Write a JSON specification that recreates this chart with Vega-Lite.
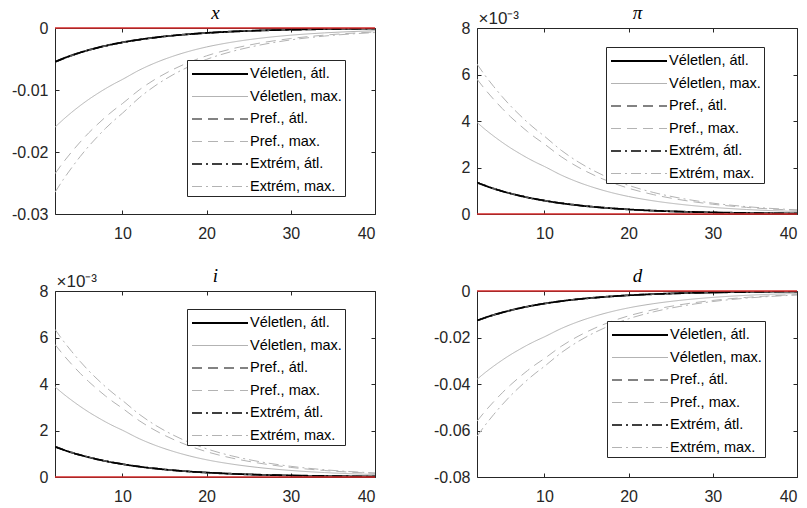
{
"$schema": "https://vega.github.io/schema/vega-lite/v6.json",
"padding": {"left": 11, "top": 3, "right": 5, "bottom": 0},
"background": "white",
"config": {
  "view": {"stroke": "#262626", "strokeWidth": 1},
  "font": "Liberation Sans",
  "axis": {"domain": false, "grid": false, "tickSize": -4, "tickColor": "#262626", "tickWidth": 1, "labelFont": "Liberation Sans", "labelFontSize": 16, "labelColor": "#262626", "zindex": 1},
  "axisX": {"labelPadding": 15.5},
  "axisY": {"labelPadding": 11},
  "legend": {"orient": "none", "strokeColor": "#262626", "fillColor": "white", "padding": 3, "symbolType": "M-0.9,0H4.7", "symbolSize": 400, "symbolStrokeWidth": 1.5, "labelFont": "Liberation Sans", "labelFontSize": 14.5, "labelColor": "#000000", "labelOffset": 38, "rowPadding": 5, "zindex": 1, "titleOrient": "right", "titlePadding": 0, "titleFontSize": 14.5, "titleFont": "Liberation Sans", "titleFontWeight": "normal"}
},
"datasets": {
"px": [
{"s":"Véletlen, átl.","t":2,"v":-0.00545},{"s":"Véletlen, átl.","t":3,"v":-0.0049},{"s":"Véletlen, átl.","t":4,"v":-0.0044},{"s":"Véletlen, átl.","t":5,"v":-0.00395},{"s":"Véletlen, átl.","t":6,"v":-0.003553},{"s":"Véletlen, átl.","t":7,"v":-0.003194},{"s":"Véletlen, átl.","t":8,"v":-0.002867},{"s":"Véletlen, átl.","t":9,"v":-0.002578},{"s":"Véletlen, átl.","t":10,"v":-0.002316},{"s":"Véletlen, átl.","t":12,"v":-0.001869},{"s":"Véletlen, átl.","t":14,"v":-0.00151},{"s":"Véletlen, átl.","t":16,"v":-0.00122},{"s":"Véletlen, átl.","t":18,"v":-0.000986},{"s":"Véletlen, átl.","t":20,"v":-0.000796},{"s":"Véletlen, átl.","t":23,"v":-0.000578},{"s":"Véletlen, átl.","t":26,"v":-0.000418},{"s":"Véletlen, átl.","t":30,"v":-0.000273},{"s":"Véletlen, átl.","t":34,"v":-0.000178},{"s":"Véletlen, átl.","t":40,"v":-0.0000937},
{"s":"Véletlen, max.","t":2,"v":-0.016},{"s":"Véletlen, max.","t":3,"v":-0.01474},{"s":"Véletlen, max.","t":4,"v":-0.01358},{"s":"Véletlen, max.","t":5,"v":-0.01251},{"s":"Véletlen, max.","t":6,"v":-0.01152},{"s":"Véletlen, max.","t":7,"v":-0.01062},{"s":"Véletlen, max.","t":8,"v":-0.00978},{"s":"Véletlen, max.","t":9,"v":-0.00901},{"s":"Véletlen, max.","t":10,"v":-0.0083},{"s":"Véletlen, max.","t":12,"v":-0.0068},{"s":"Véletlen, max.","t":14,"v":-0.00557},{"s":"Véletlen, max.","t":16,"v":-0.00456},{"s":"Véletlen, max.","t":18,"v":-0.00373},{"s":"Véletlen, max.","t":20,"v":-0.00306},{"s":"Véletlen, max.","t":23,"v":-0.00229},{"s":"Véletlen, max.","t":26,"v":-0.00171},{"s":"Véletlen, max.","t":30,"v":-0.00116},{"s":"Véletlen, max.","t":34,"v":-0.00079},{"s":"Véletlen, max.","t":40,"v":-0.00044},
{"s":"Pref., átl.","t":2,"v":-0.0055},{"s":"Pref., átl.","t":3,"v":-0.00494},{"s":"Pref., átl.","t":4,"v":-0.00444},{"s":"Pref., átl.","t":5,"v":-0.00399},{"s":"Pref., átl.","t":6,"v":-0.00359},{"s":"Pref., átl.","t":7,"v":-0.00322},{"s":"Pref., átl.","t":8,"v":-0.00289},{"s":"Pref., átl.","t":9,"v":-0.0026},{"s":"Pref., átl.","t":10,"v":-0.00234},{"s":"Pref., átl.","t":12,"v":-0.00189},{"s":"Pref., átl.","t":14,"v":-0.00152},{"s":"Pref., átl.","t":16,"v":-0.00123},{"s":"Pref., átl.","t":18,"v":-0.001},{"s":"Pref., átl.","t":20,"v":-0.0008},{"s":"Pref., átl.","t":23,"v":-0.00058},{"s":"Pref., átl.","t":26,"v":-0.00042},{"s":"Pref., átl.","t":30,"v":-0.000275},{"s":"Pref., átl.","t":34,"v":-0.00018},{"s":"Pref., átl.","t":40,"v":-0.000095},
{"s":"Pref., max.","t":2,"v":-0.0235},{"s":"Pref., max.","t":3,"v":-0.02164},{"s":"Pref., max.","t":4,"v":-0.01995},{"s":"Pref., max.","t":5,"v":-0.01838},{"s":"Pref., max.","t":6,"v":-0.01692},{"s":"Pref., max.","t":7,"v":-0.0156},{"s":"Pref., max.","t":8,"v":-0.01436},{"s":"Pref., max.","t":9,"v":-0.01323},{"s":"Pref., max.","t":10,"v":-0.0122},{"s":"Pref., max.","t":12,"v":-0.00999},{"s":"Pref., max.","t":14,"v":-0.00818},{"s":"Pref., max.","t":16,"v":-0.0067},{"s":"Pref., max.","t":18,"v":-0.00548},{"s":"Pref., max.","t":20,"v":-0.00449},{"s":"Pref., max.","t":23,"v":-0.00336},{"s":"Pref., max.","t":26,"v":-0.00251},{"s":"Pref., max.","t":30,"v":-0.0017},{"s":"Pref., max.","t":34,"v":-0.00115},{"s":"Pref., max.","t":40,"v":-0.00064},
{"s":"Extrém, átl.","t":2,"v":-0.00548},{"s":"Extrém, átl.","t":3,"v":-0.00493},{"s":"Extrém, átl.","t":4,"v":-0.00442},{"s":"Extrém, átl.","t":5,"v":-0.00397},{"s":"Extrém, átl.","t":6,"v":-0.00357},{"s":"Extrém, átl.","t":7,"v":-0.00321},{"s":"Extrém, átl.","t":8,"v":-0.00288},{"s":"Extrém, átl.","t":9,"v":-0.00259},{"s":"Extrém, átl.","t":10,"v":-0.00233},{"s":"Extrém, átl.","t":12,"v":-0.00188},{"s":"Extrém, átl.","t":14,"v":-0.00152},{"s":"Extrém, átl.","t":16,"v":-0.00123},{"s":"Extrém, átl.","t":18,"v":-0.00099},{"s":"Extrém, átl.","t":20,"v":-0.0008},{"s":"Extrém, átl.","t":23,"v":-0.00058},{"s":"Extrém, átl.","t":26,"v":-0.00042},{"s":"Extrém, átl.","t":30,"v":-0.000274},{"s":"Extrém, átl.","t":34,"v":-0.000179},{"s":"Extrém, átl.","t":40,"v":-0.000094},
{"s":"Extrém, max.","t":2,"v":-0.0265},{"s":"Extrém, max.","t":3,"v":-0.02441},{"s":"Extrém, max.","t":4,"v":-0.0225},{"s":"Extrém, max.","t":5,"v":-0.02072},{"s":"Extrém, max.","t":6,"v":-0.01908},{"s":"Extrém, max.","t":7,"v":-0.0176},{"s":"Extrém, max.","t":8,"v":-0.01619},{"s":"Extrém, max.","t":9,"v":-0.01492},{"s":"Extrém, max.","t":10,"v":-0.01375},{"s":"Extrém, max.","t":12,"v":-0.01126},{"s":"Extrém, max.","t":14,"v":-0.00922},{"s":"Extrém, max.","t":16,"v":-0.00755},{"s":"Extrém, max.","t":18,"v":-0.00617},{"s":"Extrém, max.","t":20,"v":-0.00506},{"s":"Extrém, max.","t":23,"v":-0.00379},{"s":"Extrém, max.","t":26,"v":-0.00284},{"s":"Extrém, max.","t":30,"v":-0.00192},{"s":"Extrém, max.","t":34,"v":-0.0013},{"s":"Extrém, max.","t":40,"v":-0.00073}
],
"ppi": [
{"s":"Véletlen, átl.","t":2,"v":0.00135},{"s":"Véletlen, átl.","t":3,"v":0.001214},{"s":"Véletlen, átl.","t":4,"v":0.001089},{"s":"Véletlen, átl.","t":5,"v":0.000979},{"s":"Véletlen, átl.","t":6,"v":0.00088},{"s":"Véletlen, átl.","t":7,"v":0.000791},{"s":"Véletlen, átl.","t":8,"v":0.00071},{"s":"Véletlen, átl.","t":9,"v":0.000639},{"s":"Véletlen, átl.","t":10,"v":0.000574},{"s":"Véletlen, átl.","t":12,"v":0.000463},{"s":"Véletlen, átl.","t":14,"v":0.000374},{"s":"Véletlen, átl.","t":16,"v":0.000302},{"s":"Véletlen, átl.","t":18,"v":0.000244},{"s":"Véletlen, átl.","t":20,"v":0.000197},{"s":"Véletlen, átl.","t":23,"v":0.000143},{"s":"Véletlen, átl.","t":26,"v":0.000104},{"s":"Véletlen, átl.","t":30,"v":0.0000675},{"s":"Véletlen, átl.","t":34,"v":0.000044},{"s":"Véletlen, átl.","t":40,"v":0.0000232},
{"s":"Véletlen, max.","t":2,"v":0.00394},{"s":"Véletlen, max.","t":3,"v":0.003629},{"s":"Véletlen, max.","t":4,"v":0.003345},{"s":"Véletlen, max.","t":5,"v":0.003081},{"s":"Véletlen, max.","t":6,"v":0.002837},{"s":"Véletlen, max.","t":7,"v":0.002616},{"s":"Véletlen, max.","t":8,"v":0.002407},{"s":"Véletlen, max.","t":9,"v":0.002218},{"s":"Véletlen, max.","t":10,"v":0.002045},{"s":"Véletlen, max.","t":12,"v":0.001675},{"s":"Véletlen, max.","t":14,"v":0.001371},{"s":"Véletlen, max.","t":16,"v":0.001123},{"s":"Véletlen, max.","t":18,"v":0.000918},{"s":"Véletlen, max.","t":20,"v":0.000753},{"s":"Véletlen, max.","t":23,"v":0.000563},{"s":"Véletlen, max.","t":26,"v":0.000422},{"s":"Véletlen, max.","t":30,"v":0.000285},{"s":"Véletlen, max.","t":34,"v":0.000193},{"s":"Véletlen, max.","t":40,"v":0.000108},
{"s":"Pref., átl.","t":2,"v":0.00136},{"s":"Pref., átl.","t":3,"v":0.001223},{"s":"Pref., átl.","t":4,"v":0.001098},{"s":"Pref., átl.","t":5,"v":0.000986},{"s":"Pref., átl.","t":6,"v":0.000887},{"s":"Pref., átl.","t":7,"v":0.000797},{"s":"Pref., átl.","t":8,"v":0.000715},{"s":"Pref., átl.","t":9,"v":0.000643},{"s":"Pref., átl.","t":10,"v":0.000578},{"s":"Pref., átl.","t":12,"v":0.000466},{"s":"Pref., átl.","t":14,"v":0.000377},{"s":"Pref., átl.","t":16,"v":0.000305},{"s":"Pref., átl.","t":18,"v":0.000246},{"s":"Pref., átl.","t":20,"v":0.000199},{"s":"Pref., átl.","t":23,"v":0.000144},{"s":"Pref., átl.","t":26,"v":0.000104},{"s":"Pref., átl.","t":30,"v":0.000068},{"s":"Pref., átl.","t":34,"v":0.0000443},{"s":"Pref., átl.","t":40,"v":0.0000234},
{"s":"Pref., max.","t":2,"v":0.0058},{"s":"Pref., max.","t":3,"v":0.005342},{"s":"Pref., max.","t":4,"v":0.004924},{"s":"Pref., max.","t":5,"v":0.004536},{"s":"Pref., max.","t":6,"v":0.004176},{"s":"Pref., max.","t":7,"v":0.003851},{"s":"Pref., max.","t":8,"v":0.003544},{"s":"Pref., max.","t":9,"v":0.003265},{"s":"Pref., max.","t":10,"v":0.00301},{"s":"Pref., max.","t":12,"v":0.002465},{"s":"Pref., max.","t":14,"v":0.002018},{"s":"Pref., max.","t":16,"v":0.001653},{"s":"Pref., max.","t":18,"v":0.001351},{"s":"Pref., max.","t":20,"v":0.001108},{"s":"Pref., max.","t":23,"v":0.000829},{"s":"Pref., max.","t":26,"v":0.000621},{"s":"Pref., max.","t":30,"v":0.00042},{"s":"Pref., max.","t":34,"v":0.000285},{"s":"Pref., max.","t":40,"v":0.000159},
{"s":"Extrém, átl.","t":2,"v":0.001355},{"s":"Extrém, átl.","t":3,"v":0.001218},{"s":"Extrém, átl.","t":4,"v":0.001093},{"s":"Extrém, átl.","t":5,"v":0.000982},{"s":"Extrém, átl.","t":6,"v":0.000883},{"s":"Extrém, átl.","t":7,"v":0.000794},{"s":"Extrém, átl.","t":8,"v":0.000713},{"s":"Extrém, átl.","t":9,"v":0.000641},{"s":"Extrém, átl.","t":10,"v":0.000576},{"s":"Extrém, átl.","t":12,"v":0.000465},{"s":"Extrém, átl.","t":14,"v":0.000375},{"s":"Extrém, átl.","t":16,"v":0.000304},{"s":"Extrém, átl.","t":18,"v":0.000245},{"s":"Extrém, átl.","t":20,"v":0.000198},{"s":"Extrém, átl.","t":23,"v":0.000144},{"s":"Extrém, átl.","t":26,"v":0.000104},{"s":"Extrém, átl.","t":30,"v":0.0000678},{"s":"Extrém, átl.","t":34,"v":0.0000442},{"s":"Extrém, átl.","t":40,"v":0.0000233},
{"s":"Extrém, max.","t":2,"v":0.00645},{"s":"Extrém, max.","t":3,"v":0.00594},{"s":"Extrém, max.","t":4,"v":0.005476},{"s":"Extrém, max.","t":5,"v":0.005044},{"s":"Extrém, max.","t":6,"v":0.004644},{"s":"Extrém, max.","t":7,"v":0.004283},{"s":"Extrém, max.","t":8,"v":0.003941},{"s":"Extrém, max.","t":9,"v":0.003631},{"s":"Extrém, max.","t":10,"v":0.003348},{"s":"Extrém, max.","t":12,"v":0.002741},{"s":"Extrém, max.","t":14,"v":0.002245},{"s":"Extrém, max.","t":16,"v":0.001838},{"s":"Extrém, max.","t":18,"v":0.001503},{"s":"Extrém, max.","t":20,"v":0.001232},{"s":"Extrém, max.","t":23,"v":0.000922},{"s":"Extrém, max.","t":26,"v":0.00069},{"s":"Extrém, max.","t":30,"v":0.000467},{"s":"Extrém, max.","t":34,"v":0.000317},{"s":"Extrém, max.","t":40,"v":0.000177}
],
"pi": [
{"s":"Véletlen, átl.","t":2,"v":0.0013},{"s":"Véletlen, átl.","t":3,"v":0.001169},{"s":"Véletlen, átl.","t":4,"v":0.001049},{"s":"Véletlen, átl.","t":5,"v":0.000943},{"s":"Véletlen, átl.","t":6,"v":0.000848},{"s":"Véletlen, átl.","t":7,"v":0.000762},{"s":"Véletlen, átl.","t":8,"v":0.000684},{"s":"Véletlen, átl.","t":9,"v":0.000615},{"s":"Véletlen, átl.","t":10,"v":0.000553},{"s":"Véletlen, átl.","t":12,"v":0.000446},{"s":"Véletlen, átl.","t":14,"v":0.00036},{"s":"Véletlen, átl.","t":16,"v":0.000291},{"s":"Véletlen, átl.","t":18,"v":0.000235},{"s":"Véletlen, átl.","t":20,"v":0.00019},{"s":"Véletlen, átl.","t":23,"v":0.000138},{"s":"Véletlen, átl.","t":26,"v":0.0001},{"s":"Véletlen, átl.","t":30,"v":0.000065},{"s":"Véletlen, átl.","t":34,"v":0.0000424},{"s":"Véletlen, átl.","t":40,"v":0.0000224},
{"s":"Véletlen, max.","t":2,"v":0.00388},{"s":"Véletlen, max.","t":3,"v":0.003573},{"s":"Véletlen, max.","t":4,"v":0.003294},{"s":"Véletlen, max.","t":5,"v":0.003034},{"s":"Véletlen, max.","t":6,"v":0.002794},{"s":"Véletlen, max.","t":7,"v":0.002576},{"s":"Véletlen, max.","t":8,"v":0.002371},{"s":"Véletlen, max.","t":9,"v":0.002184},{"s":"Véletlen, max.","t":10,"v":0.002014},{"s":"Véletlen, max.","t":12,"v":0.001649},{"s":"Véletlen, max.","t":14,"v":0.00135},{"s":"Véletlen, max.","t":16,"v":0.001106},{"s":"Véletlen, max.","t":18,"v":0.000904},{"s":"Véletlen, max.","t":20,"v":0.000741},{"s":"Véletlen, max.","t":23,"v":0.000555},{"s":"Véletlen, max.","t":26,"v":0.000415},{"s":"Véletlen, max.","t":30,"v":0.000281},{"s":"Véletlen, max.","t":34,"v":0.000191},{"s":"Véletlen, max.","t":40,"v":0.000106},
{"s":"Pref., átl.","t":2,"v":0.00131},{"s":"Pref., átl.","t":3,"v":0.001178},{"s":"Pref., átl.","t":4,"v":0.001057},{"s":"Pref., átl.","t":5,"v":0.00095},{"s":"Pref., átl.","t":6,"v":0.000854},{"s":"Pref., átl.","t":7,"v":0.000768},{"s":"Pref., átl.","t":8,"v":0.000689},{"s":"Pref., átl.","t":9,"v":0.00062},{"s":"Pref., átl.","t":10,"v":0.000557},{"s":"Pref., átl.","t":12,"v":0.000449},{"s":"Pref., átl.","t":14,"v":0.000363},{"s":"Pref., átl.","t":16,"v":0.000293},{"s":"Pref., átl.","t":18,"v":0.000237},{"s":"Pref., átl.","t":20,"v":0.000191},{"s":"Pref., átl.","t":23,"v":0.000139},{"s":"Pref., átl.","t":26,"v":0.0001},{"s":"Pref., átl.","t":30,"v":0.0000655},{"s":"Pref., átl.","t":34,"v":0.0000427},{"s":"Pref., átl.","t":40,"v":0.0000225},
{"s":"Pref., max.","t":2,"v":0.0057},{"s":"Pref., max.","t":3,"v":0.00525},{"s":"Pref., max.","t":4,"v":0.004839},{"s":"Pref., max.","t":5,"v":0.004457},{"s":"Pref., max.","t":6,"v":0.004104},{"s":"Pref., max.","t":7,"v":0.003785},{"s":"Pref., max.","t":8,"v":0.003483},{"s":"Pref., max.","t":9,"v":0.003209},{"s":"Pref., max.","t":10,"v":0.002958},{"s":"Pref., max.","t":12,"v":0.002423},{"s":"Pref., max.","t":14,"v":0.001984},{"s":"Pref., max.","t":16,"v":0.001625},{"s":"Pref., max.","t":18,"v":0.001328},{"s":"Pref., max.","t":20,"v":0.001089},{"s":"Pref., max.","t":23,"v":0.000815},{"s":"Pref., max.","t":26,"v":0.00061},{"s":"Pref., max.","t":30,"v":0.000413},{"s":"Pref., max.","t":34,"v":0.00028},{"s":"Pref., max.","t":40,"v":0.000156},
{"s":"Extrém, átl.","t":2,"v":0.001305},{"s":"Extrém, átl.","t":3,"v":0.001173},{"s":"Extrém, átl.","t":4,"v":0.001053},{"s":"Extrém, átl.","t":5,"v":0.000946},{"s":"Extrém, átl.","t":6,"v":0.000851},{"s":"Extrém, átl.","t":7,"v":0.000765},{"s":"Extrém, átl.","t":8,"v":0.000686},{"s":"Extrém, átl.","t":9,"v":0.000617},{"s":"Extrém, átl.","t":10,"v":0.000555},{"s":"Extrém, átl.","t":12,"v":0.000448},{"s":"Extrém, átl.","t":14,"v":0.000361},{"s":"Extrém, átl.","t":16,"v":0.000292},{"s":"Extrém, átl.","t":18,"v":0.000236},{"s":"Extrém, átl.","t":20,"v":0.000191},{"s":"Extrém, átl.","t":23,"v":0.000138},{"s":"Extrém, átl.","t":26,"v":0.0001},{"s":"Extrém, átl.","t":30,"v":0.0000653},{"s":"Extrém, átl.","t":34,"v":0.0000425},{"s":"Extrém, átl.","t":40,"v":0.0000224},
{"s":"Extrém, max.","t":2,"v":0.00635},{"s":"Extrém, max.","t":3,"v":0.005848},{"s":"Extrém, max.","t":4,"v":0.005391},{"s":"Extrém, max.","t":5,"v":0.004966},{"s":"Extrém, max.","t":6,"v":0.004572},{"s":"Extrém, max.","t":7,"v":0.004216},{"s":"Extrém, max.","t":8,"v":0.00388},{"s":"Extrém, max.","t":9,"v":0.003575},{"s":"Extrém, max.","t":10,"v":0.003296},{"s":"Extrém, max.","t":12,"v":0.002699},{"s":"Extrém, max.","t":14,"v":0.00221},{"s":"Extrém, max.","t":16,"v":0.00181},{"s":"Extrém, max.","t":18,"v":0.00148},{"s":"Extrém, max.","t":20,"v":0.001213},{"s":"Extrém, max.","t":23,"v":0.000908},{"s":"Extrém, max.","t":26,"v":0.000679},{"s":"Extrém, max.","t":30,"v":0.00046},{"s":"Extrém, max.","t":34,"v":0.000312},{"s":"Extrém, max.","t":40,"v":0.000174}
],
"pd": [
{"s":"Véletlen, átl.","t":2,"v":-0.0127},{"s":"Véletlen, átl.","t":3,"v":-0.011417},{"s":"Véletlen, átl.","t":4,"v":-0.010249},{"s":"Véletlen, átl.","t":5,"v":-0.009208},{"s":"Véletlen, átl.","t":6,"v":-0.00828},{"s":"Véletlen, átl.","t":7,"v":-0.007442},{"s":"Véletlen, átl.","t":8,"v":-0.00668},{"s":"Véletlen, átl.","t":9,"v":-0.006007},{"s":"Véletlen, átl.","t":10,"v":-0.005398},{"s":"Véletlen, átl.","t":12,"v":-0.004356},{"s":"Véletlen, átl.","t":14,"v":-0.003518},{"s":"Véletlen, átl.","t":16,"v":-0.002845},{"s":"Véletlen, átl.","t":18,"v":-0.002299},{"s":"Véletlen, átl.","t":20,"v":-0.001854},{"s":"Véletlen, átl.","t":23,"v":-0.001346},{"s":"Véletlen, átl.","t":26,"v":-0.000974},{"s":"Véletlen, átl.","t":30,"v":-0.000635},{"s":"Véletlen, átl.","t":34,"v":-0.000414},{"s":"Véletlen, átl.","t":40,"v":-0.000218},
{"s":"Véletlen, max.","t":2,"v":-0.038},{"s":"Véletlen, max.","t":3,"v":-0.035},{"s":"Véletlen, max.","t":4,"v":-0.032262},{"s":"Véletlen, max.","t":5,"v":-0.029716},{"s":"Véletlen, max.","t":6,"v":-0.02736},{"s":"Véletlen, max.","t":7,"v":-0.025232},{"s":"Véletlen, max.","t":8,"v":-0.023218},{"s":"Véletlen, max.","t":9,"v":-0.021394},{"s":"Véletlen, max.","t":10,"v":-0.019722},{"s":"Véletlen, max.","t":12,"v":-0.01615},{"s":"Véletlen, max.","t":14,"v":-0.013224},{"s":"Véletlen, max.","t":16,"v":-0.01083},{"s":"Véletlen, max.","t":18,"v":-0.008854},{"s":"Véletlen, max.","t":20,"v":-0.007258},{"s":"Véletlen, max.","t":23,"v":-0.005434},{"s":"Véletlen, max.","t":26,"v":-0.004066},{"s":"Véletlen, max.","t":30,"v":-0.002751},{"s":"Véletlen, max.","t":34,"v":-0.001866},{"s":"Véletlen, max.","t":40,"v":-0.001041},
{"s":"Pref., átl.","t":2,"v":-0.0128},{"s":"Pref., átl.","t":3,"v":-0.011507},{"s":"Pref., átl.","t":4,"v":-0.01033},{"s":"Pref., átl.","t":5,"v":-0.00928},{"s":"Pref., átl.","t":6,"v":-0.008346},{"s":"Pref., átl.","t":7,"v":-0.007501},{"s":"Pref., átl.","t":8,"v":-0.006733},{"s":"Pref., átl.","t":9,"v":-0.006054},{"s":"Pref., átl.","t":10,"v":-0.00544},{"s":"Pref., átl.","t":12,"v":-0.00439},{"s":"Pref., átl.","t":14,"v":-0.003546},{"s":"Pref., átl.","t":16,"v":-0.002867},{"s":"Pref., átl.","t":18,"v":-0.002317},{"s":"Pref., átl.","t":20,"v":-0.001869},{"s":"Pref., átl.","t":23,"v":-0.001357},{"s":"Pref., átl.","t":26,"v":-0.000982},{"s":"Pref., átl.","t":30,"v":-0.00064},{"s":"Pref., átl.","t":34,"v":-0.000417},{"s":"Pref., átl.","t":40,"v":-0.00022},
{"s":"Pref., max.","t":2,"v":-0.056},{"s":"Pref., max.","t":3,"v":-0.051576},{"s":"Pref., max.","t":4,"v":-0.047544},{"s":"Pref., max.","t":5,"v":-0.043792},{"s":"Pref., max.","t":6,"v":-0.04032},{"s":"Pref., max.","t":7,"v":-0.037184},{"s":"Pref., max.","t":8,"v":-0.034216},{"s":"Pref., max.","t":9,"v":-0.031528},{"s":"Pref., max.","t":10,"v":-0.029064},{"s":"Pref., max.","t":12,"v":-0.0238},{"s":"Pref., max.","t":14,"v":-0.019488},{"s":"Pref., max.","t":16,"v":-0.01596},{"s":"Pref., max.","t":18,"v":-0.013048},{"s":"Pref., max.","t":20,"v":-0.010696},{"s":"Pref., max.","t":23,"v":-0.008008},{"s":"Pref., max.","t":26,"v":-0.005992},{"s":"Pref., max.","t":30,"v":-0.004054},{"s":"Pref., max.","t":34,"v":-0.00275},{"s":"Pref., max.","t":40,"v":-0.001534},
{"s":"Extrém, átl.","t":2,"v":-0.01275},{"s":"Extrém, átl.","t":3,"v":-0.011462},{"s":"Extrém, átl.","t":4,"v":-0.010289},{"s":"Extrém, átl.","t":5,"v":-0.009244},{"s":"Extrém, átl.","t":6,"v":-0.008313},{"s":"Extrém, átl.","t":7,"v":-0.007472},{"s":"Extrém, átl.","t":8,"v":-0.006707},{"s":"Extrém, átl.","t":9,"v":-0.006031},{"s":"Extrém, átl.","t":10,"v":-0.005419},{"s":"Extrém, átl.","t":12,"v":-0.004373},{"s":"Extrém, átl.","t":14,"v":-0.003532},{"s":"Extrém, átl.","t":16,"v":-0.002856},{"s":"Extrém, átl.","t":18,"v":-0.002308},{"s":"Extrém, átl.","t":20,"v":-0.001862},{"s":"Extrém, átl.","t":23,"v":-0.001352},{"s":"Extrém, átl.","t":26,"v":-0.000978},{"s":"Extrém, átl.","t":30,"v":-0.000638},{"s":"Extrém, átl.","t":34,"v":-0.000416},{"s":"Extrém, átl.","t":40,"v":-0.000219},
{"s":"Extrém, max.","t":2,"v":-0.0625},{"s":"Extrém, max.","t":3,"v":-0.057563},{"s":"Extrém, max.","t":4,"v":-0.053063},{"s":"Extrém, max.","t":5,"v":-0.048875},{"s":"Extrém, max.","t":6,"v":-0.045},{"s":"Extrém, max.","t":7,"v":-0.0415},{"s":"Extrém, max.","t":8,"v":-0.038188},{"s":"Extrém, max.","t":9,"v":-0.035188},{"s":"Extrém, max.","t":10,"v":-0.032438},{"s":"Extrém, max.","t":12,"v":-0.026563},{"s":"Extrém, max.","t":14,"v":-0.02175},{"s":"Extrém, max.","t":16,"v":-0.017813},{"s":"Extrém, max.","t":18,"v":-0.014563},{"s":"Extrém, max.","t":20,"v":-0.011938},{"s":"Extrém, max.","t":23,"v":-0.008938},{"s":"Extrém, max.","t":26,"v":-0.006688},{"s":"Extrém, max.","t":30,"v":-0.004525},{"s":"Extrém, max.","t":34,"v":-0.003069},{"s":"Extrém, max.","t":40,"v":-0.001713}
]
},
"columns": 2,
"spacing": {"row": 24, "column": 56},
"resolve": {"scale": {"x": "independent", "y": "independent", "color": "independent", "strokeDash": "independent", "strokeWidth": "independent"}, "legend": {"color": "independent", "strokeDash": "independent"}},
"concat": [
{
 "width": 320, "height": 186,
 "data": {"name": "px"},
 "layer": [
  {"mark": {"type": "line", "interpolate": "monotone", "clip": true},
   "encoding": {
    "x": {"field": "t", "type": "quantitative", "scale": {"domain": [2, 40], "nice": false, "zero": false}, "axis": {"values": [10, 20, 30, 40], "title": null}},
    "y": {"field": "v", "type": "quantitative", "scale": {"domain": [-0.03, 0], "nice": false}, "axis": {"values": [-0.03, -0.02, -0.01, 0], "title": null, "labelExpr": "datum.value == 0 ? '0' : '-' + format(-datum.value, '.2f')"}},
    "color": {"field": "s", "type": "nominal", "title": "\u00a0\u00a0\u00a0", "scale": {"domain": ["Véletlen, átl.", "Véletlen, max.", "Pref., átl.", "Pref., max.", "Extrém, átl.", "Extrém, max."], "range": ["#000000", "#b3b3b3", "#5a5a5a", "#b3b3b3", "#000000", "#b3b3b3"]}, "legend": {"legendX": 132, "legendY": 32}},
    "strokeDash": {"field": "s", "type": "nominal", "title": "\u00a0\u00a0\u00a0", "scale": {"domain": ["Véletlen, átl.", "Véletlen, max.", "Pref., átl.", "Pref., max.", "Extrém, átl.", "Extrém, max."], "range": [[1, 0], [1, 0], [10, 6], [10, 6], [10, 4, 2, 4], [10, 4, 2, 4]]}, "legend": {"legendX": 132, "legendY": 32}},
    "strokeWidth": {"field": "s", "type": "nominal", "scale": {"type": "ordinal", "domain": ["Véletlen, átl.", "Véletlen, max.", "Pref., átl.", "Pref., max.", "Extrém, átl.", "Extrém, max."], "range": [1.8, 1, 1.5, 1, 1.5, 1]}, "legend": null}
   }},
  {"data": {"values": [{}]},
   "mark": {"type": "rule", "color": "#d42a2a", "strokeWidth": 1.5},
   "encoding": {
    "x": {"datum": 2, "type": "quantitative", "axis": {"orient": "top", "values": [10, 20, 30, 40], "labels": false, "title": null}},
    "x2": {"datum": 40},
    "y": {"datum": 0, "type": "quantitative", "axis": {"orient": "right", "values": [-0.03, -0.02, -0.01, 0], "labels": false, "title": "x", "titleAngle": 0, "titleX": -160, "titleY": -9.5, "titleAlign": "center", "titleBaseline": "alphabetic", "titleFont": "Liberation Serif", "titleFontStyle": "italic", "titleFontSize": 19, "titleFontWeight": "normal", "titleColor": "#000000"}}
   }}
 ],
 "resolve": {"axis": {"x": "independent", "y": "independent"}}
},
{
 "width": 320, "height": 186,
 "data": {"name": "ppi"},
 "layer": [
  {"mark": {"type": "line", "interpolate": "monotone", "clip": true},
   "encoding": {
    "x": {"field": "t", "type": "quantitative", "scale": {"domain": [2, 40], "nice": false, "zero": false}, "axis": {"values": [10, 20, 30, 40], "title": null}},
    "y": {"field": "v", "type": "quantitative", "scale": {"domain": [0, 0.008], "nice": false}, "axis": {"values": [0, 0.002, 0.004, 0.006, 0.008], "labelExpr": "format(datum.value * 1000, '.0f')", "title": "×10⁻³", "titleAngle": 0, "titleX": 1, "titleY": -5, "titleAlign": "left", "titleBaseline": "alphabetic", "titleFont": "Liberation Sans", "titleFontSize": 17, "titleFontWeight": "normal", "titleColor": "#262626"}},
    "color": {"field": "s", "type": "nominal", "title": "\u00a0\u00a0\u00a0", "scale": {"domain": ["Véletlen, átl.", "Véletlen, max.", "Pref., átl.", "Pref., max.", "Extrém, átl.", "Extrém, max."], "range": ["#000000", "#b3b3b3", "#5a5a5a", "#b3b3b3", "#000000", "#b3b3b3"]}, "legend": {"legendX": 129, "legendY": 19}},
    "strokeDash": {"field": "s", "type": "nominal", "title": "\u00a0\u00a0\u00a0", "scale": {"domain": ["Véletlen, átl.", "Véletlen, max.", "Pref., átl.", "Pref., max.", "Extrém, átl.", "Extrém, max."], "range": [[1, 0], [1, 0], [10, 6], [10, 6], [10, 4, 2, 4], [10, 4, 2, 4]]}, "legend": {"legendX": 129, "legendY": 19}},
    "strokeWidth": {"field": "s", "type": "nominal", "scale": {"type": "ordinal", "domain": ["Véletlen, átl.", "Véletlen, max.", "Pref., átl.", "Pref., max.", "Extrém, átl.", "Extrém, max."], "range": [1.8, 1, 1.5, 1, 1.5, 1]}, "legend": null}
   }},
  {"data": {"values": [{}]},
   "mark": {"type": "rule", "color": "#d42a2a", "strokeWidth": 1.5},
   "encoding": {
    "x": {"datum": 2, "type": "quantitative", "axis": {"orient": "top", "values": [10, 20, 30, 40], "labels": false, "title": null}},
    "x2": {"datum": 40},
    "y": {"datum": 0, "type": "quantitative", "axis": {"orient": "right", "values": [0, 0.002, 0.004, 0.006, 0.008], "labels": false, "title": "π", "titleAngle": 0, "titleX": -160, "titleY": -9.5, "titleAlign": "center", "titleBaseline": "alphabetic", "titleFont": "Liberation Serif", "titleFontStyle": "italic", "titleFontSize": 19, "titleFontWeight": "normal", "titleColor": "#000000"}}
   }}
 ],
 "resolve": {"axis": {"x": "independent", "y": "independent"}}
},
{
 "width": 320, "height": 186,
 "data": {"name": "pi"},
 "layer": [
  {"mark": {"type": "line", "interpolate": "monotone", "clip": true},
   "encoding": {
    "x": {"field": "t", "type": "quantitative", "scale": {"domain": [2, 40], "nice": false, "zero": false}, "axis": {"values": [10, 20, 30, 40], "title": null}},
    "y": {"field": "v", "type": "quantitative", "scale": {"domain": [0, 0.008], "nice": false}, "axis": {"values": [0, 0.002, 0.004, 0.006, 0.008], "labelExpr": "format(datum.value * 1000, '.0f')", "title": "×10⁻³", "titleAngle": 0, "titleX": 1, "titleY": -5, "titleAlign": "left", "titleBaseline": "alphabetic", "titleFont": "Liberation Sans", "titleFontSize": 17, "titleFontWeight": "normal", "titleColor": "#262626"}},
    "color": {"field": "s", "type": "nominal", "title": "\u00a0\u00a0\u00a0", "scale": {"domain": ["Véletlen, átl.", "Véletlen, max.", "Pref., átl.", "Pref., max.", "Extrém, átl.", "Extrém, max."], "range": ["#000000", "#b3b3b3", "#5a5a5a", "#b3b3b3", "#000000", "#b3b3b3"]}, "legend": {"legendX": 132, "legendY": 18}},
    "strokeDash": {"field": "s", "type": "nominal", "title": "\u00a0\u00a0\u00a0", "scale": {"domain": ["Véletlen, átl.", "Véletlen, max.", "Pref., átl.", "Pref., max.", "Extrém, átl.", "Extrém, max."], "range": [[1, 0], [1, 0], [10, 6], [10, 6], [10, 4, 2, 4], [10, 4, 2, 4]]}, "legend": {"legendX": 132, "legendY": 18}},
    "strokeWidth": {"field": "s", "type": "nominal", "scale": {"type": "ordinal", "domain": ["Véletlen, átl.", "Véletlen, max.", "Pref., átl.", "Pref., max.", "Extrém, átl.", "Extrém, max."], "range": [1.8, 1, 1.5, 1, 1.5, 1]}, "legend": null}
   }},
  {"data": {"values": [{}]},
   "mark": {"type": "rule", "color": "#d42a2a", "strokeWidth": 1.5},
   "encoding": {
    "x": {"datum": 2, "type": "quantitative", "axis": {"orient": "top", "values": [10, 20, 30, 40], "labels": false, "title": null}},
    "x2": {"datum": 40},
    "y": {"datum": 0, "type": "quantitative", "axis": {"orient": "right", "values": [0, 0.002, 0.004, 0.006, 0.008], "labels": false, "title": "i", "titleAngle": 0, "titleX": -160, "titleY": -9.5, "titleAlign": "center", "titleBaseline": "alphabetic", "titleFont": "Liberation Serif", "titleFontStyle": "italic", "titleFontSize": 19, "titleFontWeight": "normal", "titleColor": "#000000"}}
   }}
 ],
 "resolve": {"axis": {"x": "independent", "y": "independent"}}
},
{
 "width": 320, "height": 186,
 "data": {"name": "pd"},
 "layer": [
  {"mark": {"type": "line", "interpolate": "monotone", "clip": true},
   "encoding": {
    "x": {"field": "t", "type": "quantitative", "scale": {"domain": [2, 40], "nice": false, "zero": false}, "axis": {"values": [10, 20, 30, 40], "title": null}},
    "y": {"field": "v", "type": "quantitative", "scale": {"domain": [-0.08, 0], "nice": false}, "axis": {"values": [-0.08, -0.06, -0.04, -0.02, 0], "title": null, "labelExpr": "datum.value == 0 ? '0' : '-' + format(-datum.value, '.2f')"}},
    "color": {"field": "s", "type": "nominal", "title": "\u00a0", "scale": {"domain": ["Véletlen, átl.", "Véletlen, max.", "Pref., átl.", "Pref., max.", "Extrém, átl.", "Extrém, max."], "range": ["#000000", "#b3b3b3", "#5a5a5a", "#b3b3b3", "#000000", "#b3b3b3"]}, "legend": {"legendX": 130, "legendY": 30}},
    "strokeDash": {"field": "s", "type": "nominal", "title": "\u00a0", "scale": {"domain": ["Véletlen, átl.", "Véletlen, max.", "Pref., átl.", "Pref., max.", "Extrém, átl.", "Extrém, max."], "range": [[1, 0], [1, 0], [10, 6], [10, 6], [10, 4, 2, 4], [10, 4, 2, 4]]}, "legend": {"legendX": 130, "legendY": 30}},
    "strokeWidth": {"field": "s", "type": "nominal", "scale": {"type": "ordinal", "domain": ["Véletlen, átl.", "Véletlen, max.", "Pref., átl.", "Pref., max.", "Extrém, átl.", "Extrém, max."], "range": [1.8, 1, 1.5, 1, 1.5, 1]}, "legend": null}
   }},
  {"data": {"values": [{}]},
   "mark": {"type": "rule", "color": "#d42a2a", "strokeWidth": 1.5},
   "encoding": {
    "x": {"datum": 2, "type": "quantitative", "axis": {"orient": "top", "values": [10, 20, 30, 40], "labels": false, "title": null}},
    "x2": {"datum": 40},
    "y": {"datum": 0, "type": "quantitative", "axis": {"orient": "right", "values": [-0.08, -0.06, -0.04, -0.02, 0], "labels": false, "title": "d", "titleAngle": 0, "titleX": -160, "titleY": -9.5, "titleAlign": "center", "titleBaseline": "alphabetic", "titleFont": "Liberation Serif", "titleFontStyle": "italic", "titleFontSize": 19, "titleFontWeight": "normal", "titleColor": "#000000"}}
   }}
 ],
 "resolve": {"axis": {"x": "independent", "y": "independent"}}
}
]
}
